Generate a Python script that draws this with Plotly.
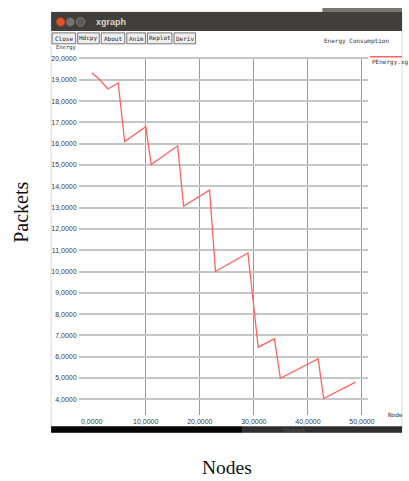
import plotly.graph_objects as go

# Energy consumption trace (PEnergy.xg)
nodes = [0.0, 1.5, 3.0, 4.9, 6.1, 10.0, 11.0, 15.9, 17.0, 21.8, 22.9,
         28.9, 30.8, 33.8, 34.9, 41.9, 42.9, 48.8]
energy = [19.33, 19.0, 18.57, 18.85, 16.1, 16.8, 15.02, 15.9, 13.07, 13.82, 10.0,
          10.87, 6.45, 6.84, 4.99, 5.91, 4.04, 4.81]

x_ticks = [0, 10, 20, 30, 40, 50]
x_tick_text = ["0,0000", "10,0000", "20,0000", "30,0000", "40,0000", "50,0000"]
x_grid = [10, 20, 30, 40, 50]
y_ticks = list(range(4, 21))
y_tick_text = [f"{v},0000" for v in y_ticks]

buttons = ["Close", "Hdcpy", "About", "Anim", "Replot", "Deriv"]
button_edges = [(53, 77), (79, 101), (103, 127), (129, 148), (150, 175), (177, 199)]

W, H = 409, 481


def px(x):
    return x / W


def py(y):
    return 1 - y / H


small_font = dict(family="Liberation Sans, Arial, sans-serif", size=7, color="#3a3a3a")
mono_font = dict(family="DejaVu Sans Mono, monospace", size=6, color="#222222")

fig = go.Figure()
fig.add_trace(go.Scatter(
    x=nodes, y=energy, mode="lines",
    line=dict(color="#ff6262", width=1.3),
    showlegend=False, hoverinfo="skip", xaxis="x", yaxis="y",
))
# invisible trace carrying the labelled x axis
fig.add_trace(go.Scatter(
    x=[nodes[0]], y=[energy[0]], mode="markers", marker=dict(opacity=0),
    showlegend=False, hoverinfo="skip", xaxis="x2", yaxis="y",
))

x_dom = [px(80), px(374)]
y_dom = [py(415), py(55)]
x_range = [-2.42, 51.04]
y_range = [3.252, 20.08]

shapes = []
# window body
shapes.append(dict(type="rect", xref="paper", yref="paper", x0=px(52), x1=1.0,
                   y0=py(432), y1=py(10), fillcolor="#ffffff",
                   line=dict(color="#cfcfcf", width=0.8), layer="below"))
# top panel strip
shapes.append(dict(type="rect", xref="paper", yref="paper", x0=px(328), x1=1.0,
                   y0=py(11), y1=py(6), fillcolor="#77766f", line=dict(width=0),
                   layer="below"))
# title bar
shapes.append(dict(type="rect", xref="paper", yref="paper", x0=px(52), x1=1.0,
                   y0=py(29), y1=py(10), fillcolor="#403f3b", line=dict(width=0),
                   layer="below"))
# window control buttons
for cx, fill, edge in [(61.7, "#e2532a", "#b8401d"), (71.5, "#75746f", "#5e5d59"),
                       (82.0, "#5a5955", "#8a8984")]:
    r = 4.3
    shapes.append(dict(type="circle", xref="paper", yref="paper",
                       x0=px(cx - r), x1=px(cx + r), y0=py(20 + r), y1=py(20 - r),
                       fillcolor=fill, line=dict(color=edge, width=0.8), layer="below"))
# toolbar buttons
for (a, b) in button_edges:
    shapes.append(dict(type="rect", xref="paper", yref="paper", x0=px(a), x1=px(b),
                       y0=py(42), y1=py(31), fillcolor="#efefef",
                       line=dict(color="#555555", width=0.8), layer="below"))
# legend sample line
shapes.append(dict(type="line", xref="paper", yref="paper", x0=px(376), x1=1.0,
                   y0=py(55), y1=py(55), line=dict(color="#ff6262", width=1.3)))
# bottom task bar
shapes.append(dict(type="rect", xref="paper", yref="paper", x0=px(52), x1=px(247),
                   y0=py(432.5), y1=py(426), fillcolor="#050505", line=dict(width=0)))
shapes.append(dict(type="rect", xref="paper", yref="paper", x0=px(247), x1=1.0,
                   y0=py(432.5), y1=py(426), fillcolor="#2e2e2e", line=dict(width=0)))

annotations = []
annotations.append(dict(text="<b>xgraph</b>", x=px(96), y=py(20), xref="paper", yref="paper",
                        xanchor="left", yanchor="middle", showarrow=False,
                        font=dict(family="Liberation Sans, Arial, sans-serif", size=9,
                                  color="#dcd8ce")))
for name, (a, b) in zip(buttons, button_edges):
    annotations.append(dict(text=name, x=px((a + b) / 2), y=py(36.5), xref="paper",
                            yref="paper", xanchor="center", yanchor="middle",
                            showarrow=False, font=mono_font))
annotations.append(dict(text="Energy", x=px(55), y=py(46), xref="paper", yref="paper",
                        xanchor="left", yanchor="middle", showarrow=False,
                        font=dict(family="DejaVu Sans Mono, monospace", size=5.5,
                                  color="#333333")))
annotations.append(dict(text="Energy Consumption", x=px(363), y=py(39), xref="paper",
                        yref="paper", xanchor="center", yanchor="middle", showarrow=False,
                        font=dict(family="DejaVu Sans Mono, monospace", size=6,
                                  color="#333333")))
annotations.append(dict(text="PEnergy.xg", x=px(376), y=py(60), xref="paper", yref="paper",
                        xanchor="left", yanchor="middle", showarrow=False,
                        font=dict(family="DejaVu Sans Mono, monospace", size=6,
                                  color="#333333")))
annotations.append(dict(text="Node", x=px(393), y=py(414), xref="paper", yref="paper",
                        xanchor="left", yanchor="middle", showarrow=False,
                        font=dict(family="DejaVu Sans Mono, monospace", size=6,
                                  color="#333333")))
annotations.append(dict(text="Network", x=px(300), y=py(429.5), xref="paper", yref="paper",
                        xanchor="center", yanchor="middle", showarrow=False,
                        font=dict(family="Liberation Sans, Arial, sans-serif", size=6,
                                  color="#555555")))
# outer figure captions
annotations.append(dict(text="Packets", x=px(21), y=py(211), xref="paper", yref="paper",
                        xanchor="center", yanchor="middle", showarrow=False, textangle=-90,
                        font=dict(family="Liberation Serif, Times New Roman, serif",
                                  size=20, color="#111111")))
annotations.append(dict(text="Nodes", x=px(231), y=py(467), xref="paper", yref="paper",
                        xanchor="center", yanchor="middle", showarrow=False,
                        font=dict(family="Liberation Serif, Times New Roman, serif",
                                  size=19.5, color="#111111")))

fig.update_layout(
    width=W, height=H,
    margin=dict(l=0, r=0, t=0, b=0),
    paper_bgcolor="#ffffff", plot_bgcolor="#ffffff",
    showlegend=False,
    xaxis=dict(domain=x_dom, range=x_range, tickvals=x_grid, showticklabels=False,
               showgrid=True, gridcolor="#9a9a9a", gridwidth=1.2, zeroline=False,
               showline=False, ticks="", fixedrange=True),
    xaxis2=dict(domain=x_dom, range=x_range, overlaying="x", anchor="y", side="bottom",
                tickvals=x_ticks, ticktext=x_tick_text, showgrid=False, zeroline=False,
                showline=False, ticks="", ticklabelstandoff=1, tickfont=small_font,
                fixedrange=True),
    yaxis=dict(domain=y_dom, range=y_range, tickvals=y_ticks, ticktext=y_tick_text,
               showgrid=True, gridcolor="#c6c6c6", gridwidth=1.6, zeroline=False,
               showline=False, ticks="", ticklabelstandoff=1, tickfont=small_font,
               fixedrange=True),
    shapes=shapes,
    annotations=annotations,
)

fig.write_html("out.html")
